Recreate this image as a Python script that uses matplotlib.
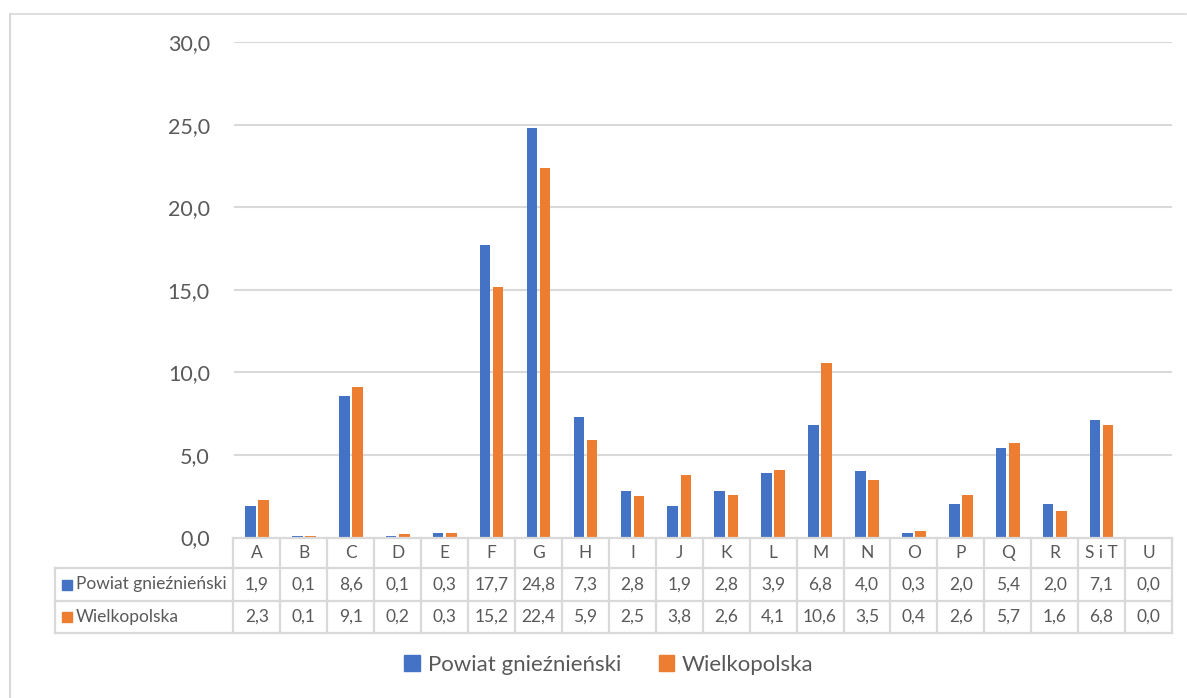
"""Udział podmiotów wg sekcji PKD: Powiat gnieźnieński vs Wielkopolska."""
import matplotlib.pyplot as plt
from matplotlib.lines import Line2D
from matplotlib.patches import Patch
from matplotlib.ticker import FuncFormatter, MultipleLocator

sections = ["A", "B", "C", "D", "E", "F", "G", "H", "I", "J",
            "K", "L", "M", "N", "O", "P", "Q", "R", "S i T", "U"]
powiat = [1.9, 0.1, 8.6, 0.1, 0.3, 17.7, 24.8, 7.3, 2.8, 1.9,
          2.8, 3.9, 6.8, 4.0, 0.3, 2.0, 5.4, 2.0, 7.1, 0.0]
wielkopolska = [2.3, 0.1, 9.1, 0.2, 0.3, 15.2, 22.4, 5.9, 2.5, 3.8,
                2.6, 4.1, 10.6, 3.5, 0.4, 2.6, 5.7, 1.6, 6.8, 0.0]
series_names = ["Powiat gnieźnieński", "Wielkopolska"]

blue = "#4472C4"
orange = "#ED7D31"
text_color = "#595959"
line_color = "#D9D9D9"

plt.rcParams["font.family"] = ["Lato", "DejaVu Sans"]

W, H = 1187, 698
fig = plt.figure(figsize=(W / 100, H / 100), dpi=100)
fig.patch.set_facecolor("white")


def fx(px):
    return px / W


def fy(py):
    return 1 - py / H


# outer chart border (top and left only visible)
fig.add_artist(Line2D([fx(10), fx(1186)], [fy(13.5), fy(13.5)], color=line_color, lw=1.2))
fig.add_artist(Line2D([fx(10), fx(10)], [fy(13.5), 0], color=line_color, lw=1.5))

left_px, right_px = 233.5, 1172
top_px, base_px = 42.3, 537.5
ax = fig.add_axes([fx(left_px), fy(base_px), fx(right_px - left_px), (base_px - top_px) / H])

x = list(range(len(sections)))
bar_w = 0.225
off = 0.14
ax.bar([i - off for i in x], powiat, width=bar_w, color=blue, zorder=3)
ax.bar([i + off for i in x], wielkopolska, width=bar_w, color=orange, zorder=3)

ax.set_xlim(-0.5, len(sections) - 0.5)
ax.set_ylim(0, 30)
ax.yaxis.set_major_locator(MultipleLocator(5))
ax.yaxis.set_major_formatter(FuncFormatter(lambda v, p: f"{v:.1f}".replace(".", ",")))
ax.grid(axis="y", color=line_color, lw=1.5, zorder=0)
ax.set_axisbelow(True)
for s in ax.spines.values():
    s.set_visible(False)
ax.tick_params(axis="y", length=0, pad=17, labelsize=15.5, labelcolor=text_color)
ax.tick_params(axis="x", bottom=False, labelbottom=False)

# data table under the plot, sharing the category scale
row_edges = [0, 30.5, 63.5, 95.5]
tab = fig.add_axes([fx(left_px), fy(base_px + row_edges[-1]),
                    fx(right_px - left_px), row_edges[-1] / H], sharex=ax)
tab.set_ylim(row_edges[-1], 0)
tab.axis("off")
col_w_px = (right_px - left_px) / len(sections)
label_left = -0.5 - (left_px - 55) / col_w_px

lkw = dict(color=line_color, lw=1.6, clip_on=False, solid_capstyle="projecting")
tab.plot([-0.5, len(sections) - 0.5], [0, 0], **lkw)
for e in row_edges[1:]:
    tab.plot([label_left, len(sections) - 0.5], [e, e], **lkw)
for i in range(len(sections) + 1):
    tab.plot([i - 0.5, i - 0.5], [0, row_edges[-1]], **lkw)
tab.plot([label_left, label_left], [row_edges[1], row_edges[-1]], **lkw)

row_mid = [(row_edges[k] + row_edges[k + 1]) / 2 for k in range(3)]
for i, s in enumerate(sections):
    tab.text(i, row_mid[0], s, ha="center", va="center", fontsize=12.5, color=text_color)
for k, (vals, col) in enumerate([(powiat, blue), (wielkopolska, orange)]):
    for i, v in enumerate(vals):
        tab.text(i, row_mid[k + 1], f"{v:.1f}".replace(".", ","),
                 ha="center", va="center", fontsize=12.5, color=text_color)
    key_x = label_left + 7 / col_w_px
    tab.add_patch(plt.Rectangle((key_x, row_mid[k + 1] - 5), 10 / col_w_px, 10,
                                color=col, clip_on=False))
    tab.text(key_x + 14 / col_w_px, row_mid[k + 1], series_names[k],
             ha="left", va="center", fontsize=12.5, color=text_color)

handles = [Patch(color=blue, label=series_names[0]), Patch(color=orange, label=series_names[1])]
fig.legend(handles=handles, loc="center", bbox_to_anchor=(fx(609), fy(665)), ncol=2,
           frameon=False, fontsize=16, labelcolor=text_color, handlelength=0.7,
           handleheight=0.7, handletextpad=0.35, columnspacing=1.7)

fig.savefig("out.png", dpi=100, facecolor="white")
